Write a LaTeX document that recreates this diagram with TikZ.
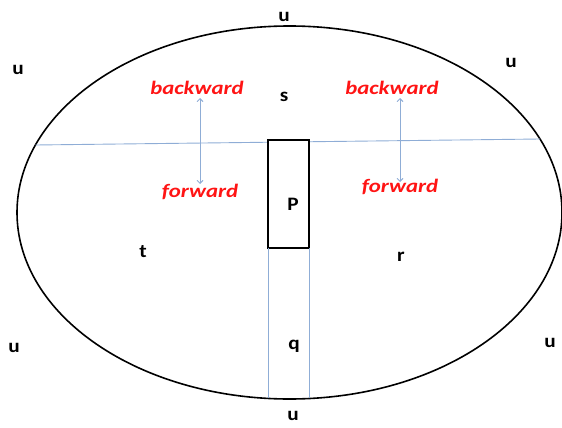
\documentclass[tikz,border=0pt]{standalone}
\usepackage{fontspec}
\setmainfont{Carlito}
\usetikzlibrary{arrows.meta}
\definecolor{lineblue}{RGB}{143,173,214}
\definecolor{lblred}{RGB}{255,20,20}
\begin{document}
\begin{tikzpicture}[x=1pt,y=-1pt,
  lbl/.style={font=\fontsize{19}{19}\selectfont\bfseries, text=black, inner sep=0pt, xscale=1.12},
  dirlbl/.style={font=\fontsize{19}{19}\selectfont\bfseries\itshape, text=lblred, inner sep=0pt, xscale=1.2},
  blueline/.style={draw=lineblue, line width=0.9pt},
  bluearrow/.style={blueline, {Straight Barb[length=3pt,width=6pt]}-{Straight Barb[length=3pt,width=6pt]}},
  blackline/.style={draw=black, line width=1.6pt}]
\useasboundingbox (0,0) rectangle (562,428);
% ellipse
\draw[blackline] (289.5,212.5) ellipse [x radius=272.5, y radius=186.5];
% horizontal blue line
\coordinate (hL) at (35.5,145);
\coordinate (hR) at (540,139);
\draw[blueline] (hL) -- (hR);
% box P
\node[blackline, fill=white, minimum width=41pt, minimum height=108pt, outer sep=0pt, inner sep=0pt, anchor=north west] (pbox) at (268,140) {};
% vertical blue lines
\coordinate (qL) at (268,398.4);
\coordinate (qR) at (309,398.4);
\draw[blueline] (pbox.south west) -- (qL);
\draw[blueline] (pbox.south east) -- (qR);
% arrows
\coordinate (aL1) at (200,98);
\coordinate (aL2) at (200,184);
\coordinate (aR1) at (400,98);
\coordinate (aR2) at (400,182);
\draw[bluearrow] (aL1) -- (aL2);
\draw[bluearrow] (aR1) -- (aR2);
% direction labels
\node[dirlbl] (bwL) at (197,88) {backward};
\node[dirlbl] (fwL) at (200,192) {forward};
\node[dirlbl] (bwR) at (392,88) {backward};
\node[dirlbl] (fwR) at (400,187) {forward};
% region labels
\node[lbl] (s) at (284,97) {s};
\node[lbl] (P) at (293,204) {P};
\node[lbl] (t) at (143,252) {t};
\node[lbl] (r) at (401,257) {r};
\node[lbl] (q) at (294,346) {q};
\node[lbl] (u1) at (284,17) {u};
\node[lbl] (u2) at (18,70) {u};
\node[lbl] (u3) at (511,63) {u};
\node[lbl] (u4) at (14,348) {u};
\node[lbl] (u5) at (550,343) {u};
\node[lbl] (u6) at (293,416) {u};
\end{tikzpicture}
\end{document}
